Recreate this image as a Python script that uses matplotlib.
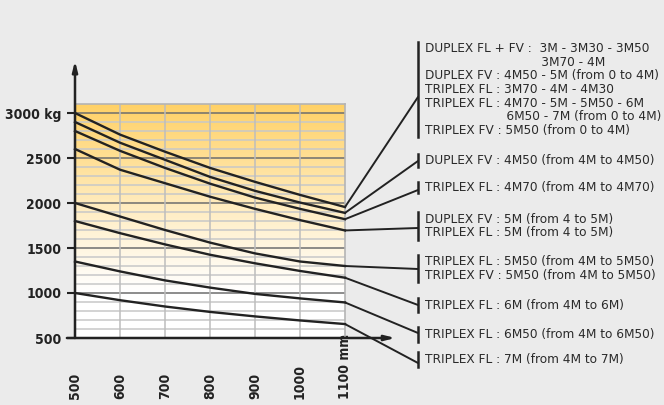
import numpy as np
import matplotlib
matplotlib.use("Agg")
import matplotlib.pyplot as plt
from matplotlib.colors import LinearSegmentedColormap

# load charts (kg) vs load centre (mm)
centres = [500, 600, 700, 800, 900, 1000, 1100]
curve_1 = [3000, 2760, 2570, 2390, 2235, 2090, 1955]
curve_2 = [2900, 2670, 2480, 2290, 2135, 2005, 1890]
curve_3 = [2800, 2580, 2390, 2215, 2060, 1935, 1820]
curve_4 = [2600, 2370, 2220, 2070, 1935, 1810, 1695]
curve_5 = [2000, 1850, 1700, 1560, 1440, 1350, 1300]
curve_6 = [1800, 1665, 1540, 1425, 1330, 1245, 1170]
curve_7 = [1350, 1240, 1140, 1060, 990, 940, 895]
curve_8 = [1000, 920, 850, 790, 740, 695, 655]
curves = [curve_1, curve_2, curve_3, curve_4, curve_5, curve_6, curve_7, curve_8]

y_ticks = [500, 1000, 1500, 2000, 2500, 3000]
y_tick_labels = ["500", "1000", "1500", "2000", "2500", "3000 kg"]
x_tick_labels = ["500", "600", "700", "800", "900", "1000", "1100 mm"]

labels = [
    "DUPLEX FL + FV :  3M - 3M30 - 3M50\n"
    "                              3M70 - 4M\n"
    "DUPLEX FV : 4M50 - 5M (from 0 to 4M)\n"
    "TRIPLEX FL : 3M70 - 4M - 4M30\n"
    "TRIPLEX FL : 4M70 - 5M - 5M50 - 6M\n"
    "                     6M50 - 7M (from 0 to 4M)\n"
    "TRIPLEX FV : 5M50 (from 0 to 4M)",
    "DUPLEX FV : 4M50 (from 4M to 4M50)",
    "TRIPLEX FL : 4M70 (from 4M to 4M70)",
    "DUPLEX FV : 5M (from 4 to 5M)\nTRIPLEX FL : 5M (from 4 to 5M)",
    "TRIPLEX FL : 5M50 (from 4M to 5M50)\nTRIPLEX FV : 5M50 (from 4M to 5M50)",
    "TRIPLEX FL : 6M (from 4M to 6M)",
    "TRIPLEX FL : 6M50 (from 4M to 6M50)",
    "TRIPLEX FL : 7M (from 4M to 7M)",
]
# bracket extents in pixels (top, bottom, connector y)
brackets = [(42, 137, 97), (154, 167, 161), (182, 193, 190), (212, 240, 228),
            (255, 282, 269), (298, 312, 305), (327, 342, 333), (352, 367, 363)]

W, H = 664, 405
fig = plt.figure(figsize=(W / 100, H / 100), dpi=100, facecolor="#ebebeb")
ax = fig.add_axes([75 / W, (H - 338) / H, 270 / W, 234 / H])
ax.set_facecolor("white")
ax.set_xlim(500, 1100)
ax.set_ylim(500, 3100)

def fx(px):
    return px / W

def fy(py):
    return 1 - py / H

# gradient background
cmap = LinearSegmentedColormap.from_list("g", [(0, "#ffffff"), (0.2, "#ffffff"),
                                               (0.45, "#fff3d6"), (1, "#ffd166")])
grad = np.linspace(0, 1, 256).reshape(-1, 1)
ax.imshow(grad, extent=[500, 1100, 500, 3100], origin="lower", aspect="auto",
          cmap=cmap, zorder=0)

# grid
for v in range(600, 3100, 100):
    c = "#6e6e6e" if v % 500 == 0 else "#c8c8c8"
    ax.axhline(v, color=c, lw=1.1, zorder=1)
for x in centres[1:-1]:
    ax.axvline(x, color="#bdbdbd", lw=1.1, zorder=1)

for s in ["top", "right"]:
    ax.spines[s].set_color("#b4b4b4")
    ax.spines[s].set_linewidth(1.2)
for s in ["left", "bottom"]:
    ax.spines[s].set_visible(False)

# axes with arrows
ax.annotate("", xy=(500, 3580), xytext=(500, 500), annotation_clip=False,
            arrowprops=dict(arrowstyle="-|>,head_length=0.6,head_width=0.15",
                            color="#222222", lw=1.8, shrinkA=0, shrinkB=0))
ax.annotate("", xy=(1212, 500), xytext=(482, 500), annotation_clip=False,
            arrowprops=dict(arrowstyle="-|>,head_length=0.6,head_width=0.15",
                            color="#222222", lw=1.8, shrinkA=0, shrinkB=0))

# ticks
tick_font = dict(family="DejaVu Sans", stretch="condensed", weight="bold",
                 size=10)
ax.set_yticks(y_ticks)
ax.set_yticklabels(y_tick_labels, fontdict=tick_font, color="#222222")
ax.tick_params(axis="y", length=6, width=1.5, color="#222222", pad=4)
ax.set_xticks(centres)
ax.set_xticklabels(x_tick_labels, rotation=90, va="bottom", fontdict=tick_font,
                   color="#222222")
ax.tick_params(axis="x", length=0, pad=44)

# curves
for ys in curves:
    ax.plot(centres, ys, color="#222222", lw=1.7, zorder=3, clip_on=False)

# connectors, brackets and labels
for ys, (top, bot, cy), txt in zip(curves, brackets, labels):
    ax.annotate("", xy=(fx(418), fy(cy)), xycoords="figure fraction",
                xytext=(centres[-1], ys[-1]), textcoords="data",
                annotation_clip=False,
                arrowprops=dict(arrowstyle="-", color="#222222", lw=1.4,
                                shrinkA=0, shrinkB=0))
    fig.add_artist(plt.Line2D([fx(418), fx(418)], [fy(top), fy(bot)],
                              color="#222222", lw=1.8))
    fig.text(fx(425), fy((top + bot) / 2), txt, fontsize=8.7, color="#2a2a2a",
             va="center", ha="left", linespacing=1.07)

fig.savefig("out.png", dpi=100, facecolor=fig.get_facecolor())
